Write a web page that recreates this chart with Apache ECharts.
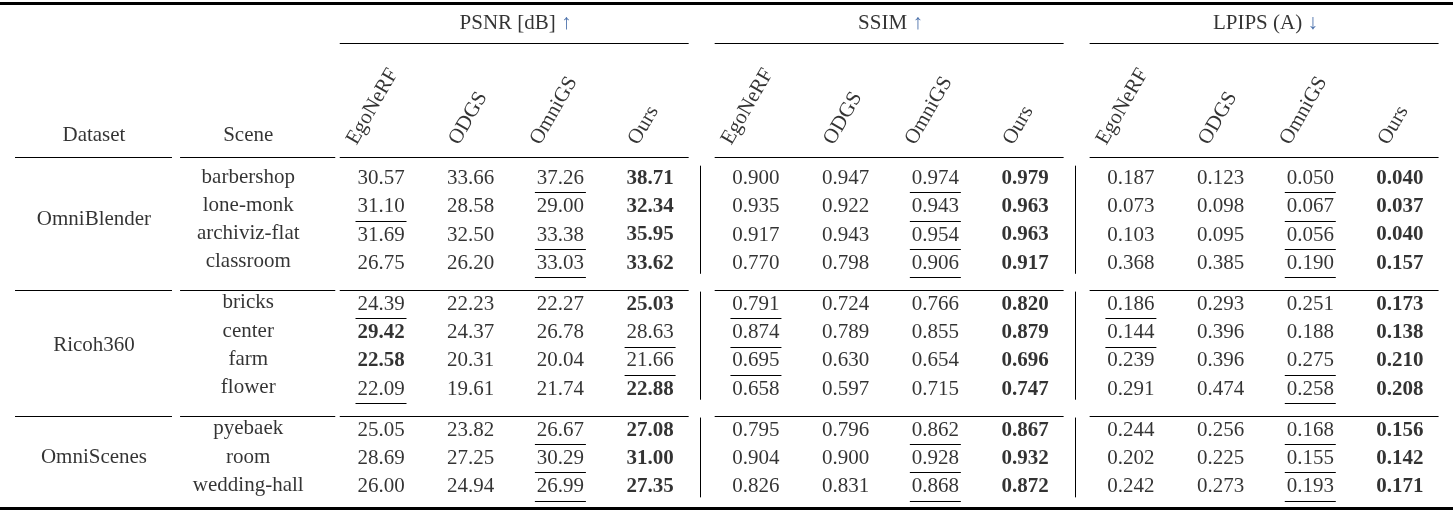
<!DOCTYPE html>
<html>
<head>
<meta charset="utf-8">
<title>table</title>
<script src="https://cdn.jsdelivr.net/npm/echarts@6/dist/echarts.min.js"></script>
</head>
<body style="margin:0;background:#fff">
<div id="main" style="width:1453px;height:513px;"></div>
<script type="text/javascript">
var datasets = ['OmniBlender', 'Ricoh360', 'OmniScenes'];
var scenes = [
    ['barbershop', 'lone-monk', 'archiviz-flat', 'classroom'],
    ['bricks', 'center', 'farm', 'flower'],
    ['pyebaek', 'room', 'wedding-hall']
];
var methods = ['EgoNeRF', 'ODGS', 'OmniGS', 'Ours'];
var metricNames = ['PSNR [dB]', 'SSIM', 'LPIPS (A)'];
var metricArrows = ['↑', '↑', '↓'];

// per metric, per method, one value per scene row
var psnr = [
    [30.57, 31.10, 31.69, 26.75, 24.39, 29.42, 22.58, 22.09, 25.05, 28.69, 26.00],
    [33.66, 28.58, 32.50, 26.20, 22.23, 24.37, 20.31, 19.61, 23.82, 27.25, 24.94],
    [37.26, 29.00, 33.38, 33.03, 22.27, 26.78, 20.04, 21.74, 26.67, 30.29, 26.99],
    [38.71, 32.34, 35.95, 33.62, 25.03, 28.63, 21.66, 22.88, 27.08, 31.00, 27.35]
];
var ssim = [
    [0.900, 0.935, 0.917, 0.770, 0.791, 0.874, 0.695, 0.658, 0.795, 0.904, 0.826],
    [0.947, 0.922, 0.943, 0.798, 0.724, 0.789, 0.630, 0.597, 0.796, 0.900, 0.831],
    [0.974, 0.943, 0.954, 0.906, 0.766, 0.855, 0.654, 0.715, 0.862, 0.928, 0.868],
    [0.979, 0.963, 0.963, 0.917, 0.820, 0.879, 0.696, 0.747, 0.867, 0.932, 0.872]
];
var lpips = [
    [0.187, 0.073, 0.103, 0.368, 0.186, 0.144, 0.239, 0.291, 0.244, 0.202, 0.242],
    [0.123, 0.098, 0.095, 0.385, 0.293, 0.396, 0.396, 0.474, 0.256, 0.225, 0.273],
    [0.050, 0.067, 0.056, 0.190, 0.251, 0.188, 0.275, 0.258, 0.168, 0.155, 0.193],
    [0.040, 0.037, 0.040, 0.157, 0.173, 0.138, 0.210, 0.208, 0.156, 0.142, 0.171]
];
// index of bold (best) and underlined (second) method per row, -1 = none
var psnrBold = [3, 3, 3, 3, 3, 0, 0, 3, 3, 3, 3];
var psnrUnder = [2, 0, 2, 2, 0, 3, 3, 0, 2, 2, 2];
var ssimBold = [3, 3, 3, 3, 3, 3, 3, 3, 3, 3, 3];
var ssimUnder = [2, 2, 2, 2, 0, 0, 0, -1, 2, 2, 2];
var lpipsBold = [3, 3, 3, 3, 3, 3, 3, 3, 3, 3, 3];
var lpipsUnder = [2, 2, 2, 2, 0, 0, 2, 2, 2, 2, 2];

var metrics = [psnr, ssim, lpips];
var bolds = [psnrBold, ssimBold, lpipsBold];
var unders = [psnrUnder, ssimUnder, lpipsUnder];
var decimals = [2, 3, 3];

var GX = 0.18, GY = 0.45;
function colX(g, m) { return g * 4 + m + g * GX; }
function rowY(grp, i) { return grp * 4 + i + grp * GY; }

var FONT = '"Liberation Serif", "DejaVu Serif", serif';
var texts = [], segs = [];
function txt(x, y, t, extra) {
    var o = {value: [x, y], t: t, label: {fontWeight: 'normal'}};
    if (extra) for (var k in extra) o.label[k] = extra[k];
    texts.push(o);
}
function seg(x1, y1, x2, y2, w) {
    segs.push({coords: [[x1, y1], [x2, y2]], lineStyle: {width: w || 1}});
}

// headers
txt(-3.2, -1.48, 'Dataset');
txt(-1.48, -1.48, 'Scene');
for (var g = 0; g < 3; g++) {
    txt(colX(g, 1.5), -5.42, metricNames[g] + ' {a|' + metricArrows[g] + '}');
    for (var m = 0; m < 4; m++) {
        var w = methods[m].length * 10.5;
        txt(colX(g, m) - w * 0.4 / 89.7, -1.2, methods[m], {rotate: 60, align: 'left'});
    }
    seg(colX(g, 0) - 0.46, -4.73, colX(g, 3) + 0.43, -4.73);
    seg(colX(g, 0) - 0.46, -0.71, colX(g, 3) + 0.43, -0.71);
}
seg(-4.08, -0.71, -2.33, -0.71);
seg(-2.24, -0.71, -0.51, -0.71);
seg(-4.3, -6.15, 12, -6.15, 3);
seg(-4.3, 11.7, 12, 11.7, 3);

// body
var r = 0;
for (var d = 0; d < datasets.length; d++) {
    var n = scenes[d].length;
    txt(-3.2, rowY(d, (n - 1) / 2), datasets[d]);
    if (d > 0) {
        var sy = rowY(d, 0) - 0.46;
        seg(-4.08, sy, -2.33, sy);
        seg(-2.24, sy, -0.51, sy);
        for (var g2 = 0; g2 < 3; g2++) seg(colX(g2, 0) - 0.46, sy, colX(g2, 3) + 0.43, sy);
    }
    for (var v = 1; v < 3; v++) {
        seg(colX(v, 0) - 0.62, rowY(d, 0) - 0.4, colX(v, 0) - 0.62, rowY(d, n - 1) + 0.42);
    }
    for (var i = 0; i < n; i++) {
        var y = rowY(d, i);
        txt(-1.48, y, scenes[d][i]);
        for (var g3 = 0; g3 < 3; g3++) {
            for (var m2 = 0; m2 < 4; m2++) {
                var s = metrics[g3][m2][r].toFixed(decimals[g3]);
                var x = colX(g3, m2);
                var isB = bolds[g3][r] === m2;
                txt(x, y + 0.05, s, {fontWeight: isB ? 'bold' : 'normal'});
                if (unders[g3][r] === m2) {
                    var hw = s.length * 10.2 / 2 / 89.7;
                    seg(x - hw, y + 0.55, x + hw, y + 0.55);
                }
            }
        }
        r++;
    }
}

var myChart = echarts.init(document.getElementById('main'));
myChart.setOption({
    animation: false,
    backgroundColor: '#fff',
    grid: {left: 0, right: 0, top: 0, bottom: 0},
    xAxis: {type: 'value', min: -381 / 89.7, max: (1453 - 381) / 89.7, show: false},
    yAxis: {type: 'value', inverse: true, min: -177 / 28.3, max: (513 - 177) / 28.3, show: false},
    series: [
        {
            type: 'scatter',
            symbolSize: 0,
            data: texts,
            label: {
                show: true,
                position: 'inside',
                color: '#000',
                fontFamily: FONT,
                fontSize: 21,
                formatter: function (p) { return p.data.t; },
                rich: {a: {color: '#1f4e96', fontFamily: FONT, fontSize: 21}}
            }
        },
        {
            type: 'lines',
            coordinateSystem: 'cartesian2d',
            polyline: false,
            lineStyle: {color: '#000', width: 1, opacity: 1},
            data: segs
        }
    ]
});
</script>
</body>
</html>
